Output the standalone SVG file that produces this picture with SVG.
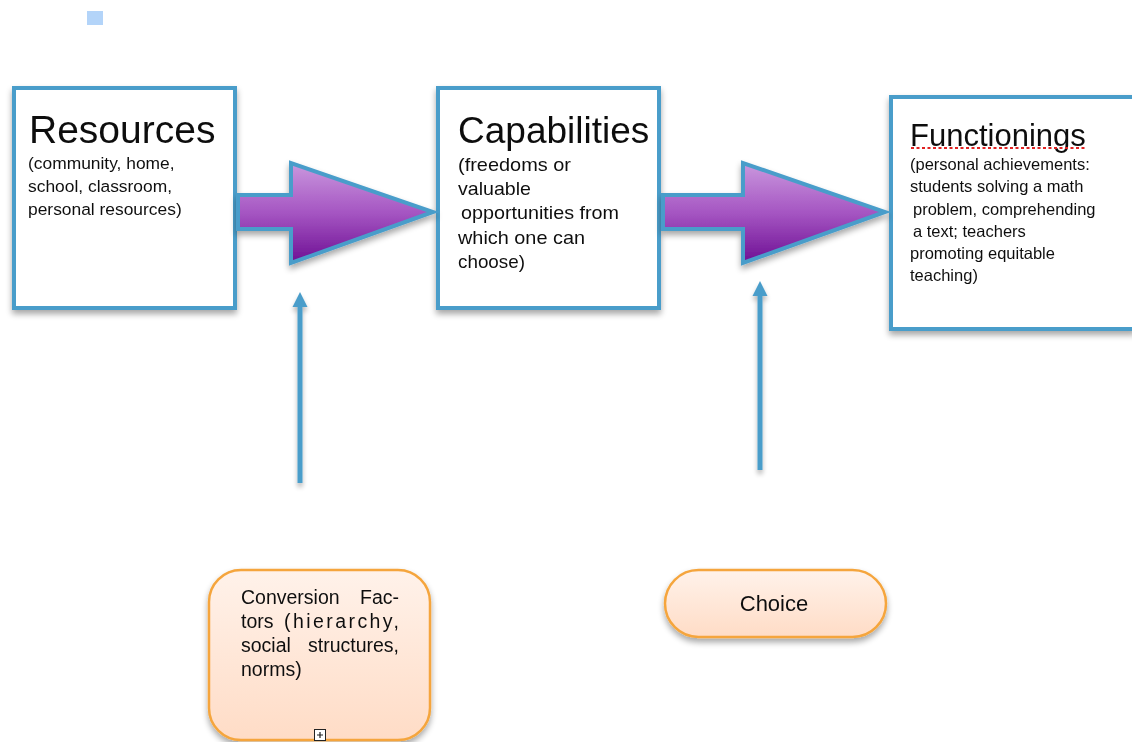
<svg xmlns="http://www.w3.org/2000/svg" width="1132" height="742" viewBox="0 0 1132 742">
<defs>
<style>
.box{fill:#fff;stroke:#4a9dca;stroke-width:4}
.t{font-family:"Liberation Sans",Arial,sans-serif;fill:#111}
.h{font-size:39px}
.s{font-size:17.4px}
.s2{font-size:19px}
.c{font-size:19.5px}
.fat{fill:url(#pg);stroke:#4a9dca;stroke-width:4;stroke-linejoin:miter}
.vl{stroke:#4a9dca;stroke-width:5;fill:none}
.hd{fill:#4a9dca}
.pill{fill:url(#og);stroke:#f5a53c;stroke-width:2.5}
</style>
<linearGradient id="pg" x1="0" y1="0" x2="0" y2="1">
<stop offset="0" stop-color="#ca98de"/>
<stop offset="0.5" stop-color="#a555c2"/>
<stop offset="1" stop-color="#6e1094"/>
</linearGradient>
<linearGradient id="og" x1="0" y1="0" x2="0" y2="1">
<stop offset="0" stop-color="#fff2ea"/>
<stop offset="1" stop-color="#ffdcc6"/>
</linearGradient>
<filter id="sh" x="-10%" y="-10%" width="125%" height="130%">
<feGaussianBlur in="SourceAlpha" stdDeviation="3"/>
<feOffset dx="0" dy="4" result="b"/>
<feComponentTransfer><feFuncA type="linear" slope="0.35"/></feComponentTransfer>
<feMerge><feMergeNode/><feMergeNode in="SourceGraphic"/></feMerge>
</filter>
<filter id="shu" filterUnits="userSpaceOnUse" x="0" y="0" width="1132" height="742">
<feGaussianBlur in="SourceAlpha" stdDeviation="2.5"/>
<feOffset dx="0" dy="4" result="b"/>
<feComponentTransfer><feFuncA type="linear" slope="0.3"/></feComponentTransfer>
<feMerge><feMergeNode/><feMergeNode in="SourceGraphic"/></feMerge>
</filter>
</defs>
<rect width="1132" height="742" fill="#fff"/>
<rect x="87" y="11" width="16" height="14" fill="#b3d4f9"/>

<g id="resources" filter="url(#sh)">
<rect class="box" x="14" y="88" width="221" height="220"/>
<text class="t h" x="29" y="143">Resources</text>
<text class="t s" x="28" y="169">(community, home,</text>
<text class="t s" x="28" y="192">school, classroom,</text>
<text class="t s" x="28" y="215">personal resources)</text>
</g>

<g id="capabilities" filter="url(#sh)">
<rect class="box" x="438" y="88" width="221" height="220"/>
<text class="t" x="458" y="143" font-size="37">Capabilities</text>
<text class="t s2" x="458" y="171" textLength="113" lengthAdjust="spacingAndGlyphs">(freedoms or</text>
<text class="t s2" x="458" y="195" textLength="73" lengthAdjust="spacingAndGlyphs">valuable</text>
<text class="t s2" x="461" y="219" textLength="158" lengthAdjust="spacingAndGlyphs">opportunities from</text>
<text class="t s2" x="458" y="244" textLength="127" lengthAdjust="spacingAndGlyphs">which one can</text>
<text class="t s2" x="458" y="268" textLength="67" lengthAdjust="spacingAndGlyphs">choose)</text>
</g>

<g id="functionings" filter="url(#sh)">
<rect class="box" x="891" y="97" width="243" height="232"/>
<text class="t" x="910" y="146" font-size="31">Functionings</text>
<line x1="911" y1="148" x2="1085" y2="148" stroke="#e02020" stroke-width="2" stroke-dasharray="3,2.5"/>
<text class="t" font-size="16.5" x="910" y="170">(personal achievements:</text>
<text class="t" font-size="16.5" x="910" y="192">students solving a math</text>
<text class="t" font-size="16.5" x="913" y="215">problem, comprehending</text>
<text class="t" font-size="16.5" x="913" y="237">a text; teachers</text>
<text class="t" font-size="16.5" x="910" y="259">promoting equitable</text>
<text class="t" font-size="16.5" x="910" y="281">teaching)</text>
</g>

<g id="conversion" filter="url(#sh)">
<rect class="pill" x="209" y="570" width="221" height="170" rx="32"/>
<text class="t c" x="241" y="604">Conversion</text>
<text class="t c" x="399" y="604" text-anchor="end">Fac-</text>
<text class="t c" x="241" y="628">tors</text>
<text class="t c" x="284" y="628" textLength="115" lengthAdjust="spacing">(hierarchy,</text>
<text class="t c" x="241" y="652">social</text>
<text class="t c" x="399" y="652" text-anchor="end">structures,</text>
<text class="t c" x="241" y="676">norms)</text>
<rect x="314.5" y="729.5" width="11" height="11" fill="#fff" stroke="#222" stroke-width="1"/>
<path d="M317,735 H323 M320,732 V738" stroke="#222" stroke-width="1.2"/>
</g>

<g id="choice" filter="url(#sh)">
<rect class="pill" x="665" y="570" width="221" height="67" rx="33.5"/>
<text class="t" x="774" y="611" font-size="22" text-anchor="middle">Choice</text>
</g>

<g id="connectors">
<path class="fat" filter="url(#sh)" d="M238,195 H291 V163 L433,212 L291,263 V229 H238 Z"/>
<path class="fat" filter="url(#sh)" d="M663,195 H743 V163 L885,212 L743,263 V229 H663 Z"/>
<g filter="url(#shu)">
<line class="vl" x1="300" y1="483" x2="300" y2="305"/>
<polygon class="hd" points="300,292 307.5,307 292.5,307"/>
</g>
<g filter="url(#shu)">
<line class="vl" x1="760" y1="470" x2="760" y2="294"/>
<polygon class="hd" points="760,281 767.5,296 752.5,296"/>
</g>
</g>
</svg>
